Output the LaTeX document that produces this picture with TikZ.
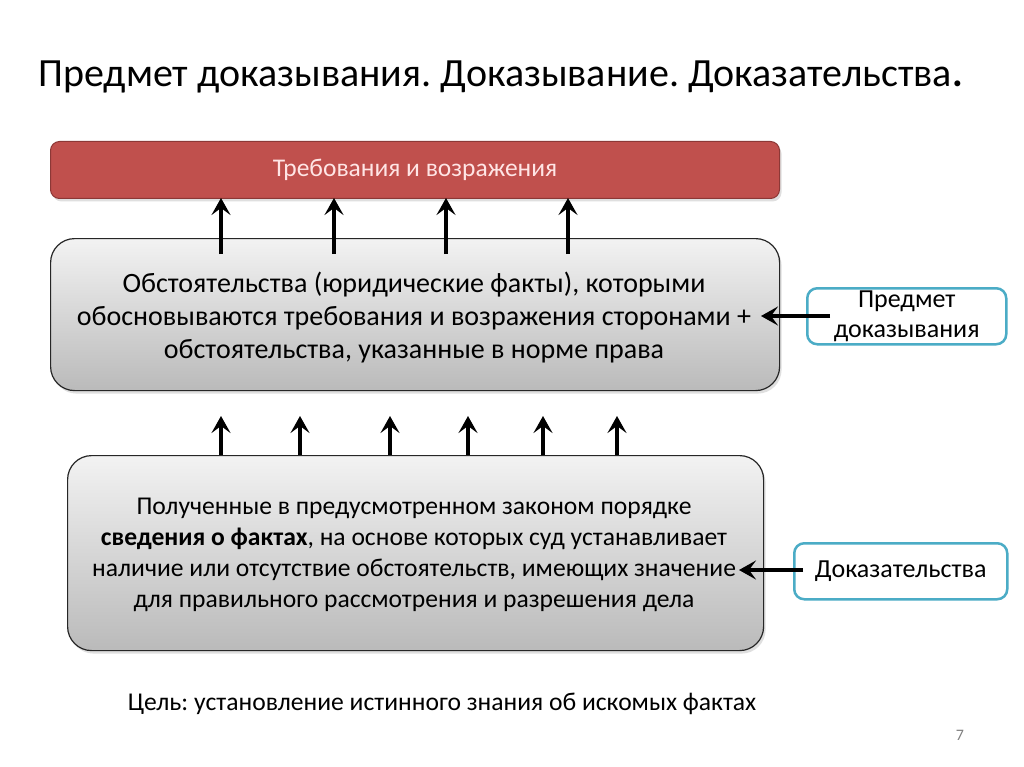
\documentclass[tikz,border=0pt]{standalone}
\usepackage{fontspec}
\setmainfont{Carlito}
\frenchspacing
\usetikzlibrary{arrows.meta,shadows}
\definecolor{redbox}{HTML}{C0504D}
\definecolor{redline}{HTML}{8C3836}
\definecolor{teal}{HTML}{4BACC6}
\tikzset{
  graybox/.style={draw=black!85, line width=1.2pt, rounded corners=24pt, top color=black!5, bottom color=black!27,
    drop shadow={shadow xshift=2pt, shadow yshift=-3pt, opacity=0.25}},
  topbox/.style={draw=redline, line width=1pt, fill=redbox, rounded corners=9pt,
    drop shadow={shadow xshift=2pt, shadow yshift=-3pt, opacity=0.25}},
  sidebox/.style={draw=teal, line width=2.5pt, fill=white, rounded corners=10pt, align=center},
  uparrow/.style={line width=4pt, -{Stealth[length=17pt,width=19pt,inset=7pt]}},
  leftarrow/.style={line width=4pt, -{Stealth[length=17pt,width=19pt,inset=7pt]}},
}
\begin{document}
\begin{tikzpicture}[x=1pt,y=-1pt]
\useasboundingbox (0,0) rectangle (1024,767);
\fill[white] (0,0) rectangle (1024,767);
\node[anchor=west, font=\fontsize{40}{44}\selectfont] (title) at (35,77) {Предмет доказывания. Доказывание. Доказательства\textbf{.}};
\node[topbox, minimum width=729pt, minimum height=57pt, anchor=north west] (req) at (50,141) {};
\node[text=white!90!red, font=\fontsize{25.5}{30}\selectfont] (reqt) at (req.center) {Требования и возражения};
\node[graybox, minimum width=729pt, minimum height=152pt, anchor=north west] (circ) at (50,238) {};
\node[align=center, font=\fontsize{28}{33}\selectfont] (circt) at (414,318) {Обстоятельства (юридические факты), которыми\\обосновываются требования и возражения сторонами +\\обстоятельства, указанные в норме права};
\node[graybox, minimum width=696pt, minimum height=195pt, anchor=north west] (evid) at (67,455) {};
\node[align=center, font=\fontsize{25.6}{31}\selectfont] (evidt) at (414,555) {Полученные в предусмотренном законом порядке\\\textbf{сведения о фактах}, на основе которых суд устанавливает\\наличие или отсутствие обстоятельств, имеющих значение\\для правильного рассмотрения и разрешения дела};
\node[sidebox, minimum width=199pt, minimum height=56pt, anchor=north west, font=\fontsize{26}{30}\selectfont, inner sep=0pt] (subj) at (806,287) {Предмет\\доказывания};
\node[sidebox, minimum width=213pt, minimum height=56pt, anchor=north west, font=\fontsize{26}{30}\selectfont] (proof) at (793,542) {Доказательства};
\node[font=\fontsize{25.6}{30}\selectfont] (goal) at (442,704) {Цель: установление истинного знания об искомых фактах};
\node[text=black!50, font=\fontsize{16}{18}\selectfont] (page) at (960,735) {7};
\foreach \x in {221,334,446,568}
  \draw[uparrow] (\x,254) -- (\x,198);
\foreach \x in {221,300,390,468,543,617}
  \draw[uparrow] (\x,455) -- (\x,416);
\coordinate (a1) at (761,316);
\coordinate (a2) at (739,570);
\coordinate (t1) at (830,316);
\coordinate (t2) at (803,570);
\draw[leftarrow] (t1) -- (a1);
\draw[leftarrow] (t2) -- (a2);
\end{tikzpicture}
\end{document}
